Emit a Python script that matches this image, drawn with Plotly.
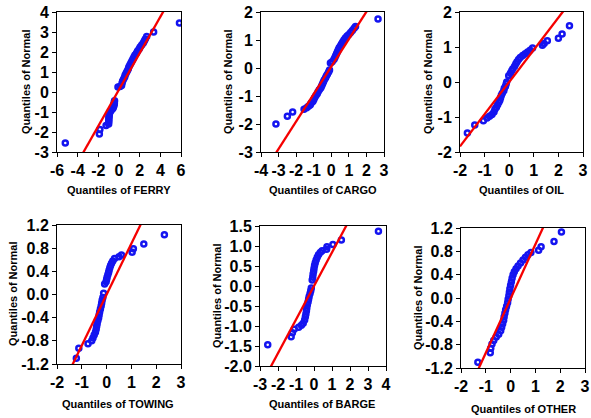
import plotly.graph_objects as go

W, H = 591, 418

# ---------------- data ----------------
ferry_x = [-5.2, -1.9, -1.85, -1.25, -1.0, -1.0, -0.98, -0.98, -0.97, -0.95, -0.93, -0.9, -0.8, -0.7,
           -0.6, -0.55, -0.5, -0.48, -0.45, -0.45, -0.43, -0.1, 0.1, 0.25, 0.3, 0.35, 0.45, 0.55, 0.6,
           0.7, 0.8, 0.9, 0.95, 1.05, 1.15, 1.25, 1.35, 1.45, 1.55, 1.7, 1.8, 1.95, 2.05, 2.2, 2.35,
           2.45, 2.55, 2.68, 3.35, 5.85]
ferry_y = [-2.55, -2.1, -1.87, -1.68, -1.6, -1.5, -1.42, -1.33, -1.25, -1.17, -1.1, -1.02, -0.95, -0.88,
           -0.82, -0.76, -0.7, -0.63, -0.57, -0.5, -0.44, 0.25, 0.28, 0.33, 0.45, 0.55, 0.65, 0.75, 0.85,
           0.95, 1.05, 1.15, 1.25, 1.35, 1.45, 1.55, 1.65, 1.75, 1.85, 1.95, 2.05, 2.15, 2.25, 2.35, 2.45,
           2.55, 2.65, 2.78, 3.0, 3.45]

cargo_x = [-3.15, -2.5, -2.2, -1.55, -1.4, -1.3, -1.2, -1.15, -1.05, -1.0, -0.95, -0.88, -0.8, -0.75,
           -0.68, -0.6, -0.55, -0.5, -0.45, -0.4, -0.33, -0.28, -0.22, -0.15, -0.1, -0.05, 0.05, 0.15,
           0.2, 0.25, 0.3, 0.35, 0.4, 0.45, 0.52, 0.58, 0.65, 0.72, 0.8, 0.9, 1.0, 1.1, 1.2, 1.3, 1.38, 2.66]
cargo_y = [-2.0, -1.72, -1.57, -1.47, -1.42, -1.37, -1.32, -1.26, -1.2, -1.13, -1.06, -0.99, -0.92, -0.85,
           -0.78, -0.71, -0.64, -0.57, -0.5, -0.43, -0.36, -0.29, -0.22, -0.14, -0.07, 0.18, 0.22, 0.3,
           0.37, 0.44, 0.51, 0.58, 0.65, 0.72, 0.79, 0.86, 0.93, 1.0, 1.07, 1.14, 1.2, 1.27, 1.34, 1.42, 1.48, 1.75]

oil_x = [-1.7, -1.4, -1.05, -0.9, -0.8, -0.7, -0.62, -0.58, -0.52, -0.47, -0.42, -0.38, -0.35, -0.32,
         -0.28, -0.22, -0.2, -0.15, -0.12, -0.1, -0.02, 0.05, 0.1, 0.15, 0.22, 0.27, 0.32, 0.38, 0.45,
         0.55, 0.65, 0.75, 0.85, 0.95, 1.35, 1.42, 1.55, 2.0, 2.15, 2.45]
oil_y = [-1.46, -1.23, -1.11, -1.03, -0.98, -0.93, -0.86, -0.78, -0.72, -0.65, -0.58, -0.52, -0.45, -0.38,
         -0.32, -0.25, -0.18, -0.12, -0.05, 0.0, 0.18, 0.25, 0.32, 0.38, 0.45, 0.52, 0.58, 0.64, 0.7,
         0.76, 0.81, 0.86, 0.91, 0.97, 1.05, 1.1, 1.18, 1.25, 1.37, 1.61]

towing_x = [-1.22, -1.12, -0.75, -0.6, -0.55, -0.5, -0.45, -0.42, -0.4, -0.38, -0.35, -0.32, -0.3, -0.28,
            -0.25, -0.22, -0.2, -0.18, -0.15, -0.12, -0.08, -0.02, 0.0, 0.02, 0.05, 0.08, 0.1, 0.13,
            0.16, 0.2, 0.25, 0.32, 0.5, 0.6, 1.03, 1.08, 1.5, 2.33]
towing_y = [-1.1, -0.93, -0.85, -0.8, -0.75, -0.7, -0.65, -0.6, -0.55, -0.5, -0.45, -0.4, -0.35, -0.3,
            -0.25, -0.2, -0.15, -0.1, -0.05, 0.02, 0.18, 0.22, 0.26, 0.3, 0.34, 0.38, 0.42, 0.46,
            0.5, 0.54, 0.58, 0.62, 0.65, 0.68, 0.73, 0.79, 0.87, 1.03]

barge_x = [-2.57, -1.27, -1.2, -1.1, -0.85, -0.7, -0.6, -0.52, -0.48, -0.45, -0.42, -0.4, -0.37, -0.33,
           -0.3, -0.27, -0.22, -0.18, -0.15, -0.1, -0.07, -0.05, -0.02, 0.0, 0.03, 0.07, 0.12, 0.18,
           0.25, 0.35, 0.45, 0.7, 0.72, 1.05, 1.52, 3.58]
barge_y = [-1.47, -1.27, -1.17, -1.08, -1.03, -0.98, -0.93, -0.85, -0.77, -0.7, -0.62, -0.55, -0.47, -0.4,
           -0.33, -0.26, -0.19, -0.12, -0.05, 0.15, 0.22, 0.3, 0.37, 0.44, 0.51, 0.58, 0.65, 0.72,
           0.78, 0.84, 0.88, 0.92, 0.98, 1.04, 1.15, 1.37]

other_x = [-1.32, -0.82, -0.8, -0.75, -0.68, -0.58, -0.48, -0.4, -0.36, -0.32, -0.28, -0.26, -0.23, -0.2,
           -0.16, -0.12, -0.1, -0.07, -0.05, -0.03, 0.0, 0.03, 0.06, 0.1, 0.15, 0.22, 0.3, 0.4, 0.5,
           0.6, 0.7, 0.82, 1.13, 1.23, 1.75, 2.05]
other_y = [-1.1, -0.94, -0.86, -0.79, -0.73, -0.67, -0.62, -0.56, -0.5, -0.44, -0.38, -0.32, -0.26, -0.2,
           -0.14, -0.08, -0.02, 0.04, 0.1, 0.16, 0.22, 0.28, 0.34, 0.4, 0.45, 0.5, 0.55, 0.6, 0.65,
           0.7, 0.74, 0.78, 0.82, 0.88, 0.97, 1.13]

# reference lines: (intercept, slope)
ferry_line = (0.12, 0.91)
cargo_line = (0.05, 0.98)
oil_line = (0.0, 0.92)
towing_line = (0.0, 0.88)
barge_line = (0.0, 0.84)
other_line = (-0.01, 0.93)

# axis ticks
ferry_xt = [-6, -4, -2, 0, 2, 4, 6]
ferry_yt = [-3, -2, -1, 0, 1, 2, 3, 4]
cargo_xt = [-4, -3, -2, -1, 0, 1, 2, 3]
cargo_yt = [-3, -2, -1, 0, 1, 2]
oil_xt = [-2, -1, 0, 1, 2, 3]
oil_yt = [-2, -1, 0, 1, 2]
towing_xt = [-2, -1, 0, 1, 2, 3]
towing_yt = [-1.2, -0.8, -0.4, 0.0, 0.4, 0.8, 1.2]
barge_xt = [-3, -2, -1, 0, 1, 2, 3, 4]
barge_yt = [-2.0, -1.5, -1.0, -0.5, 0.0, 0.5, 1.0, 1.5]
other_xt = [-2, -1, 0, 1, 2, 3]
other_yt = [-1.2, -0.8, -0.4, 0.0, 0.4, 0.8, 1.2]

# ---------------- layout geometry (pixels) ----------------
panels = [
    dict(name="FERRY", x=ferry_x, y=ferry_y, line=ferry_line, xt=ferry_xt, yt=ferry_yt, fmt="{:d}",
         box=(57, 181, 12, 152), xtitle=(119, 190), ytitle=(26, 82)),
    dict(name="CARGO", x=cargo_x, y=cargo_y, line=cargo_line, xt=cargo_xt, yt=cargo_yt, fmt="{:d}",
         box=(261, 384, 12, 152), xtitle=(323, 190), ytitle=(228, 82)),
    dict(name="OIL", x=oil_x, y=oil_y, line=oil_line, xt=oil_xt, yt=oil_yt, fmt="{:d}",
         box=(460, 583, 12, 152), xtitle=(521, 190), ytitle=(428, 82)),
    dict(name="TOWING", x=towing_x, y=towing_y, line=towing_line, xt=towing_xt, yt=towing_yt, fmt="{:.1f}",
         box=(57, 181, 225, 364), xtitle=(118, 404), ytitle=(13, 294)),
    dict(name="BARGE", x=barge_x, y=barge_y, line=barge_line, xt=barge_xt, yt=barge_yt, fmt="{:.1f}",
         box=(260, 386, 226, 366), xtitle=(322, 404), ytitle=(217, 296)),
    dict(name="OTHER", x=other_x, y=other_y, line=other_line, xt=other_xt, yt=other_yt, fmt="{:.1f}",
         box=(461, 585, 228, 368), xtitle=(523, 409), ytitle=(418, 298)),
]

FONT = "Liberation Sans, Arial, sans-serif"
BLUE = "rgb(20,20,240)"

fig = go.Figure()
layout = dict(width=W, height=H, margin=dict(l=0, r=0, t=0, b=0, autoexpand=False),
              paper_bgcolor="white", plot_bgcolor="white", showlegend=False,
              font=dict(family=FONT, color="black"))
annotations = []

for i, p in enumerate(panels, start=1):
    xa = "x" if i == 1 else f"x{i}"
    ya = "y" if i == 1 else f"y{i}"
    x0, x1, y0, y1 = p["box"]
    xr = [p["xt"][0], p["xt"][-1]]
    yr = [p["yt"][0], p["yt"][-1]]
    axcommon = dict(showgrid=False, zeroline=False, showline=True, linecolor="black", linewidth=1,
                    mirror=True, ticks="outside", ticklen=4, tickwidth=1, tickcolor="black",
                    automargin=False,
                    tickfont=dict(family=FONT, size=16, color="black", weight="bold"))
    layout["xaxis" if i == 1 else f"xaxis{i}"] = dict(
        axcommon, domain=[x0 / W, x1 / W], range=xr, anchor=ya,
        tickmode="array", tickvals=p["xt"], ticktext=[str(v) for v in p["xt"]])
    layout["yaxis" if i == 1 else f"yaxis{i}"] = dict(
        axcommon, domain=[1 - y1 / H, 1 - y0 / H], range=yr, anchor=xa,
        tickmode="array", tickvals=p["yt"], ticktext=[p["fmt"].format(v) for v in p["yt"]])

    fig.add_trace(go.Scatter(x=p["x"], y=p["y"], mode="markers", xaxis=xa, yaxis=ya,
                             marker=dict(symbol="circle-open", size=5, color=BLUE,
                                         line=dict(width=2.5, color=BLUE))))
    a, b = p["line"]
    lx = [xr[0], xr[1]]
    ly = [a + b * v for v in lx]
    fig.add_trace(go.Scatter(x=lx, y=ly, mode="lines", xaxis=xa, yaxis=ya,
                             line=dict(color="rgb(245,0,0)", width=2.3)))

    annotations.append(dict(text="Quantiles of " + p["name"], xref="paper", yref="paper",
                            x=p["xtitle"][0] / W, y=1 - p["xtitle"][1] / H,
                            xanchor="center", yanchor="middle", showarrow=False,
                            font=dict(family=FONT, size=11, color="black", weight="bold")))
    annotations.append(dict(text="Quantiles of Normal", xref="paper", yref="paper",
                            x=p["ytitle"][0] / W, y=1 - p["ytitle"][1] / H, textangle=-90,
                            xanchor="center", yanchor="middle", showarrow=False,
                            font=dict(family=FONT, size=11, color="black", weight="bold")))

layout["annotations"] = annotations
fig.update_layout(**layout)
fig.write_html("out.html", config={"displayModeBar": False},
               post_script="document.body.style.margin='0';document.body.style.overflow='hidden';")
